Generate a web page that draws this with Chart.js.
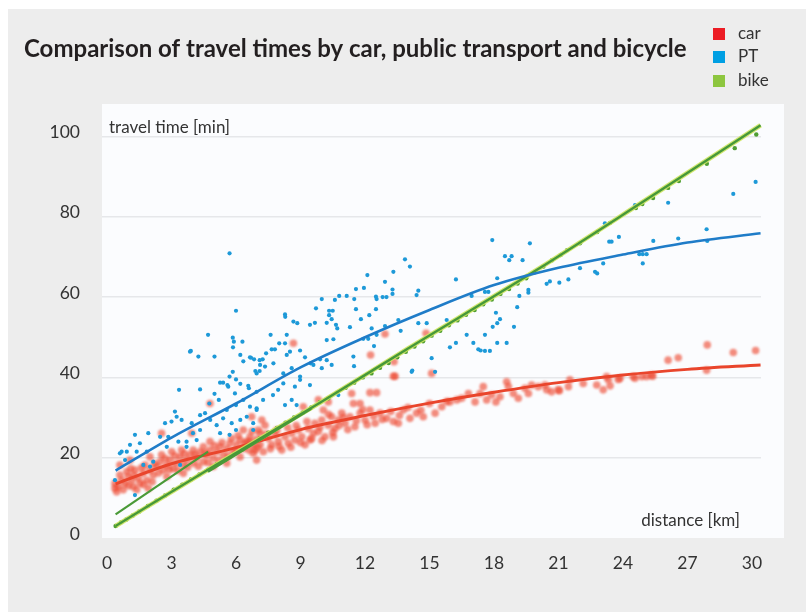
<!DOCTYPE html>
<html>
<head>
<meta charset="utf-8">
<script src="https://cdn.jsdelivr.net/npm/chart.js@4/dist/chart.umd.min.js"></script>
<style>
  html, body { margin: 0; padding: 0; background: #ffffff; }
  #wrap { position: relative; width: 811px; height: 612px; }
  canvas { display: block; }
</style>
</head>
<body>
<div id="wrap"><canvas id="chart" width="811" height="612"></canvas></div>
<script>
// ---- data ----------------------------------------------------------------
const xTicks = [0, 3, 6, 9, 12, 15, 18, 21, 24, 27, 30];
const yTicks = [0, 20, 40, 60, 80, 100];

const seriesNames = ['car', 'PT', 'bike'];

// individual trips: [distance km, travel time min]
const carPoints = [
  [0.37,13.6],[0.53,12.8],[0.37,12.4],[0.68,14.4],[0.84,13.6],[0.6,15.7],[0.99,15.3],[1.15,14.4],
  [1.22,12.8],[1.38,12.0],[1.46,14.9],[1.53,13.6],[0.92,16.5],[1.3,16.9],[1.69,16.1],[1.85,14.4],
  [2.0,16.9],[2.15,15.7],[1.77,18.2],[2.31,17.8],[2.47,19.0],[2.62,16.9],[2.78,18.2],[2.93,19.4],
  [2.54,20.7],[3.08,17.4],[3.24,18.6],[3.4,20.2],[3.55,18.2],[3.71,19.4],[3.86,20.7],[4.01,18.6],
  [4.17,19.9],[4.33,21.5],[4.48,19.0],[4.64,20.7],[4.79,21.9],[4.94,19.9],[5.1,21.5],[5.26,22.7],
  [5.41,20.7],[5.57,22.3],[5.72,23.6],[5.88,21.5],[6.03,23.2],[6.19,24.4],[6.34,22.3],[6.5,24.0],
  [6.65,25.2],[6.8,23.2],[6.96,24.6],[7.12,26.1],[4.79,24.0],[4.48,22.7],[4.01,21.9],[3.47,21.9],
  [2.54,26.1],[3.94,26.1],[4.79,33.5],[6.34,26.9],[1.07,19.4],[0.6,18.2],[2.0,20.2],[3.01,21.5],
  [3.55,16.1],[2.78,15.3],[1.92,12.4],[4.94,17.8],[5.57,18.6],[6.19,20.2],[6.8,21.1],[6.96,19.4],
  [6.65,24.0],[6.88,21.9],[7.12,23.2],[7.27,21.5],[7.5,24.8],[7.66,23.2],[7.81,25.7],[7.97,24.0],
  [8.13,21.9],[8.28,25.2],[8.43,23.6],[8.59,26.1],[8.74,24.4],[8.9,26.9],[9.06,25.2],[9.21,23.2],
  [9.36,27.3],[9.52,24.8],[9.67,28.6],[9.83,26.5],[9.99,29.4],[10.14,25.2],[10.29,28.1],[10.45,30.2],
  [10.6,27.3],[10.76,29.4],[10.92,31.1],[11.07,28.6],[11.3,30.2],[11.53,27.7],[11.77,31.1],[12.0,29.4],
  [12.23,31.9],[12.47,28.6],[12.7,31.1],[13.01,29.8],[13.32,29.0],[13.55,28.6],[13.78,31.9],[14.09,29.8],
  [14.4,31.1],[11.46,33.5],[11.77,33.5],[11.38,36.0],[12.23,36.2],[12.54,36.2],[13.4,40.3],[10.06,31.9],
  [10.29,33.9],[9.83,34.4],[9.13,32.7],[9.44,24.4],[10.53,25.2],[7.35,28.1],[7.04,26.9],[7.2,29.4],
  [6.73,30.2],[8.67,48.5],[12.93,50.8],[12.26,45.6],[13.35,43.9],[14.84,51.0],[15.1,41.0],[13.32,40.3],
  [14.71,30.2],[15.26,31.1],[15.95,33.9],[16.27,34.4],[16.81,36.0],[17.12,33.9],[17.35,36.0],[17.66,34.4],
  [17.89,35.6],[18.09,33.9],[18.28,35.2],[18.67,37.7],[18.9,36.0],[19.13,34.8],[19.44,37.3],[19.75,38.1],
  [20.06,37.7],[20.37,38.1],[20.68,36.4],[20.99,36.9],[21.53,39.4],[22.15,38.5],[22.78,38.1],[23.08,36.9],
  [23.32,39.4],[18.59,38.9],[19.6,36.0],[17.5,37.7],[15.57,32.7],[27.92,48.1],[26.1,44.3],[26.57,44.9],
  [29.13,46.2],[30.17,46.7],[23.24,40.2],[23.86,39.8],[24.48,40.2],[25.1,40.2],[25.33,40.6],[27.89,41.8],
  [20.45,36.9],[21.04,36.7],[21.46,37.7],[23.4,37.9],[23.78,39.5],[24.56,39.8],[24.87,40.2],[25.38,40.3],
  [0.45,11.5],[0.75,12.0],[1.0,13.0],[1.1,17.3],[1.25,15.6],[1.6,17.5],[1.7,13.3],[2.1,14.0],
  [2.2,18.5],[2.4,16.2],[2.7,19.8],[2.9,17.0],[3.15,20.5],[3.3,16.8],[3.6,21.0],[3.75,17.6],
  [4.1,20.8],[4.25,17.9],[4.55,21.2],[4.7,18.8],[5.0,23.0],[5.2,19.3],[5.35,23.8],[5.65,20.4],
  [5.8,24.8],[6.0,21.8],[6.1,25.5],[6.4,23.6],[6.6,21.9],[6.75,26.6],[7.0,22.5],[7.4,25.9],
  [7.6,22.2],[7.9,26.8],[8.0,22.8],[8.4,27.5],[8.55,22.6],[8.8,28.0],[9.0,23.8],[9.3,29.0],
  [9.6,26.1],[9.9,27.6],[10.0,24.3],[10.3,30.8],[10.5,26.3],[10.8,28.0],[11.0,30.0],[11.2,27.0],
  [11.6,29.2],[11.9,32.0],[12.1,28.2],[12.4,30.3],[12.8,29.5],[13.2,31.5],[13.6,30.5],[14.0,32.5],
  [14.6,31.8],[15.0,33.5],[15.8,34.0],[16.5,34.8]
];

const ptPoints = [
  [5.7,70.9],[6.0,56.6],[4.7,50.6],[3.9,46.6],[4.25,45.2],[5.0,45.2],[5.85,49.9],[5.9,48.9],
  [6.3,48.9],[5.86,47.5],[6.2,45.6],[6.34,44.0],[6.7,44.9],[6.84,44.5],[7.1,44.3],[6.9,41.6],
  [7.1,41.6],[5.85,41.4],[5.7,40.2],[6.0,39.5],[5.26,38.7],[5.4,38.7],[6.2,38.4],[5.64,37.7],
  [6.57,37.9],[3.35,36.9],[4.33,37.0],[5.0,35.9],[5.6,38.1],[5.95,36.0],[6.6,37.3],[6.96,36.4],
  [4.76,33.5],[5.2,34.4],[5.57,31.9],[6.0,33.1],[6.34,34.4],[6.65,32.7],[6.96,31.9],[3.16,31.5],
  [3.24,30.2],[3.0,29.0],[2.7,28.6],[3.47,29.4],[3.94,28.6],[4.33,30.6],[4.56,31.1],[4.8,29.4],
  [5.1,28.1],[5.4,29.8],[5.8,28.6],[6.2,29.4],[6.5,30.2],[6.8,28.6],[6.0,26.9],[5.7,25.7],
  [5.26,26.1],[4.33,26.9],[4.0,26.1],[4.17,24.4],[3.7,24.0],[3.32,24.0],[2.85,25.2],[2.47,25.2],
  [1.92,26.1],[1.3,25.7],[1.53,23.6],[1.07,23.2],[0.68,21.5],[0.92,21.5],[1.38,21.5],[1.85,21.5],
  [0.84,19.4],[1.69,18.2],[2.15,19.0],[2.78,22.7],[0.37,14.4],[1.3,10.7],[2.0,17.8],[3.4,18.2],
  [3.7,22.7],[0.6,21.1],[3.86,46.4],
  [13.86,69.4],[14.09,67.6],[12.11,65.5],[13.32,66.3],[12.93,63.8],[11.95,62.3],[11.58,62.0],[13.28,61.9],
  [13.28,60.8],[9.99,59.5],[10.8,60.3],[11.15,60.3],[11.5,59.5],[10.6,59.3],[12.51,60.1],[12.54,59.5],
  [12.82,60.0],[13.0,60.0],[14.4,60.5],[9.72,57.2],[10.33,56.6],[10.5,56.6],[11.58,57.0],[12.51,57.0],
  [8.28,55.7],[8.29,55.1],[10.33,55.5],[10.45,54.5],[8.67,53.9],[8.85,53.5],[9.44,53.1],[9.67,53.6],
  [10.22,53.6],[10.65,53.1],[10.71,52.2],[11.3,52.5],[11.81,54.5],[12.2,55.5],[12.31,52.2],[12.93,52.8],
  [13.55,54.3],[13.66,51.6],[11.92,49.6],[12.15,49.6],[12.54,50.6],[7.61,50.6],[8.36,50.6],[8.01,48.5],
  [8.28,48.5],[7.66,47.0],[7.81,47.0],[7.4,46.0],[6.65,45.0],[7.24,44.5],[7.12,43.1],[7.35,42.7],
  [7.74,43.5],[8.36,45.6],[8.51,46.4],[8.98,46.7],[9.21,45.0],[9.47,43.5],[9.91,44.5],[10.22,49.3],
  [10.53,49.5],[10.22,44.3],[10.45,43.1],[9.99,42.3],[9.6,43.1],[8.59,42.3],[8.98,40.2],[8.2,41.0],
  [6.96,41.0],[11.46,45.2],[11.49,42.8],[12.42,47.8],[14.2,41.7],
  [9.44,38.1],[8.98,39.4],[8.74,37.7],[8.2,38.5],[7.96,36.9],[7.72,35.6],[7.26,34.4],[8.59,34.4],
  [8.28,33.1],[8.82,33.1],[10.76,35.6],[6.96,32.3],[6.8,26.9],
  [17.92,74.2],[19.67,73.4],[18.51,70.2],[18.82,70.2],[18.71,69.2],[19.33,69.2],[16.23,64.4],[18.15,64.7],
  [23.36,73.8],[23.16,78.4],[22.0,67.2],[22.7,66.3],[22.8,65.9],[21.46,64.4],[21.04,63.6],[20.6,63.9],
  [20.45,63.3],[19.6,61.8],[19.6,61.1],[14.48,61.6],[16.96,60.3],[17.58,61.3],[17.74,61.3],[19.18,60.3],
  [19.08,57.5],[18.09,56.1],[18.28,54.5],[18.15,53.5],[17.94,52.6],[18.93,52.6],[14.48,53.5],[14.87,53.5],
  [15.8,54.3],[16.73,50.6],[17.58,50.6],[16.23,48.6],[15.95,47.5],[17.04,48.6],[18.15,48.6],[18.59,48.6],
  [17.27,47.0],[17.38,46.7],[17.58,46.6],[17.81,46.6],[15.1,44.8],[15.26,41.4],[14.17,41.4],
  [30.17,88.7],[29.13,85.7],[26.1,83.5],[24.56,82.9],[23.81,75.0],[23.47,73.8],[25.41,74.0],[26.57,74.6],
  [27.89,76.9],[27.92,74.0],[24.76,70.7],[24.92,70.7],[25.1,70.7],[24.92,68.4],[23.08,68.4]
];

const bikePoints = [
  [0.4,3.0],[0.65,3.9],[0.9,4.6],[1.2,5.6],[1.5,6.6],[1.9,8.0],[2.3,9.3],[2.7,10.6],
  [3.1,12.0],[3.5,13.3],[3.9,14.6],[4.3,15.8],[4.7,17.0],[5.1,18.4],[5.5,19.5],[5.9,20.9],
  [6.3,22.1],[6.7,23.5],[7.1,24.8],[7.5,26.2],[7.9,27.4],[8.3,28.7],[8.7,30.0],[9.1,31.2],
  [9.5,32.5],[9.9,33.8],[10.3,34.8],[10.7,36.2],[11.1,37.4],[11.5,38.7],[11.9,40.0],[12.3,41.0],
  [12.7,42.4],[13.1,43.6],[13.5,45.0],[13.9,46.4],[14.3,47.7],[14.7,49.0],[15.1,50.4],[15.5,51.6],
  [15.9,53.0],[16.3,54.2],[16.7,55.6],[17.1,56.8],[17.5,58.2],[17.9,59.4],[18.3,60.8],[18.7,62.0],
  [19.1,63.4],[19.5,64.7],[19.9,66.2],[20.3,67.6],[20.7,69.2],[21.1,70.5],[21.4,71.7],[22.0,73.4],
  [22.8,76.2],[23.4,78.5],[24.6,82.2],[24.9,83.2],[25.4,84.7],[26.1,87.2],[26.6,88.9],[27.9,93.2],
  [29.2,97.1],[30.2,100.5]
];

// fitted trend curves
const carTrend  = [[0.4,13.5],[3,18.5],[6,22.5],[9,27.0],[12,30.5],[15,33.6],[18,36.3],[21,38.7],[24,40.6],[27,42.0],[30.4,43.1]];
const ptTrend   = [[0.4,16.8],[3,25.0],[6,33.5],[9,42.5],[12,50.0],[15,56.8],[18,63.0],[21,67.3],[24,70.6],[27,73.6],[30.4,75.9]];
const bikeTrend = [[0.4,3.0],[5,18.0],[10,34.0],[14,47.2],[20,66.8],[25,84.0],[30.4,102.8]];
const bikeShortA = [[0.4,5.9],[4.7,21.5]];
const bikeShortB = [[4.7,16.5],[9.5,32.2]];

// ---- colours -------------------------------------------------------------
const RED = '#ec1c24', BLUE = '#009fe3', GREEN = '#8dc63f';
const FONT = 'Lato, "Open Sans", sans-serif';

const pts = arr => arr.map(([x, y]) => ({ x, y }));

function trendSet(arr, color, width, order) {
  return {
    data: pts(arr), showLine: true, pointRadius: 0, borderColor: color,
    borderWidth: width, cubicInterpolationMode: 'monotone', fill: false,
    order, clip: false
  };
}

// background panels, titles and legend
const decor = {
  id: 'decor',
  beforeDraw(chart) {
    const { ctx, chartArea: a } = chart;
    ctx.save();
    ctx.fillStyle = '#ededed';
    ctx.fillRect(8, 9, 798, 603);
    ctx.fillStyle = '#fbfcfe';
    ctx.fillRect(a.left, a.top, 784 - a.left, a.bottom - a.top);
    ctx.restore();
  },
  beforeDatasetsDraw(chart) {
    const { ctx, chartArea: a } = chart;
    ctx.save();
    ctx.fillStyle = '#333333';
    ctx.font = '17px ' + FONT;
    ctx.textBaseline = 'middle';
    ctx.textAlign = 'left';
    ctx.fillText('travel time [min]', a.left + 7, a.top + 24);
    ctx.textAlign = 'right';
    ctx.fillText('distance [km]', 740, a.bottom - 17);
    ctx.restore();
  },
  afterDraw(chart) {
    const { ctx } = chart;
    ctx.save();
    ctx.fillStyle = '#231f20';
    ctx.font = 'bold 24px ' + FONT;
    ctx.textBaseline = 'alphabetic';
    ctx.textAlign = 'left';
    ctx.fillText('Comparison of travel times by car, public transport and bicycle', 24, 57);
    const cols = [RED, BLUE, GREEN];
    const ys = [34, 57, 81];
    ctx.font = '17px ' + FONT;
    ctx.textBaseline = 'middle';
    seriesNames.forEach((name, i) => {
      ctx.fillStyle = cols[i];
      ctx.fillRect(713, ys[i] - 6, 12, 12);
      ctx.fillStyle = '#333333';
      ctx.fillText(name, 738, ys[i]);
    });
    ctx.restore();
  },
  beforeDatasetDraw(chart, args) {
    if (args.index === 0) { chart.ctx.save(); chart.ctx.filter = 'blur(0.8px)'; }
  },
  afterDatasetDraw(chart, args) {
    if (args.index === 0) { chart.ctx.restore(); }
  }
};

new Chart(document.getElementById('chart'), {
  type: 'scatter',
  data: {
    datasets: [
      { label: 'car', data: pts(carPoints), pointRadius: 3.8, pointBorderWidth: 0,
        pointBackgroundColor: 'rgba(238,70,45,0.62)', order: 10, clip: false },
      { label: 'bike', data: pts(bikePoints), pointRadius: 2.2, pointBorderWidth: 0,
        pointBackgroundColor: '#4f9e32', order: 9, clip: false },
      { label: 'PT', data: pts(ptPoints), pointRadius: 2.1, pointBorderWidth: 0,
        pointBackgroundColor: '#1d99d8', order: 8, clip: false },
      trendSet(carTrend, '#e9452c', 3, 5),
      trendSet(bikeShortA, '#4a9a38', 2.2, 4),
      trendSet(bikeShortB, '#4a9a38', 2.2, 4),
      trendSet(bikeTrend, 'rgba(205,228,95,0.9)', 4.6, 4),
      trendSet(bikeTrend, '#46983a', 2.4, 3),
      trendSet(ptTrend, '#1f7cc8', 2.6, 2)
    ]
  },
  options: {
    responsive: false,
    animation: false,
    events: [],
    layout: { padding: { left: 32, top: 104, right: 50, bottom: 34 } },
    plugins: { legend: { display: false }, tooltip: { enabled: false }, title: { display: false } },
    scales: {
      x: {
        type: 'linear', min: -0.233, max: 30.42,
        afterBuildTicks: s => { s.ticks = xTicks.map(v => ({ value: v })); },
        afterFit: s => { s.height = 40; },
        grid: { display: false, drawTicks: false },
        border: { display: false },
        ticks: { color: '#333333', font: { family: FONT, size: 17.5 }, padding: 15, maxRotation: 0 }
      },
      y: {
        type: 'linear', min: 0, max: 108.1,
        afterBuildTicks: s => { s.ticks = yTicks.map(v => ({ value: v })); },
        afterFit: s => { s.width = 70; },
        grid: { color: c => (c.tick && c.tick.value === 0) ? 'rgba(0,0,0,0)' : '#e6e7ea', lineWidth: 1.6, drawTicks: false },
        border: { display: false },
        ticks: { color: '#333333', font: { family: FONT, size: 17.5 }, padding: 22, labelOffset: -4 }
      }
    }
  },
  plugins: [decor]
});
</script>
</body>
</html>
